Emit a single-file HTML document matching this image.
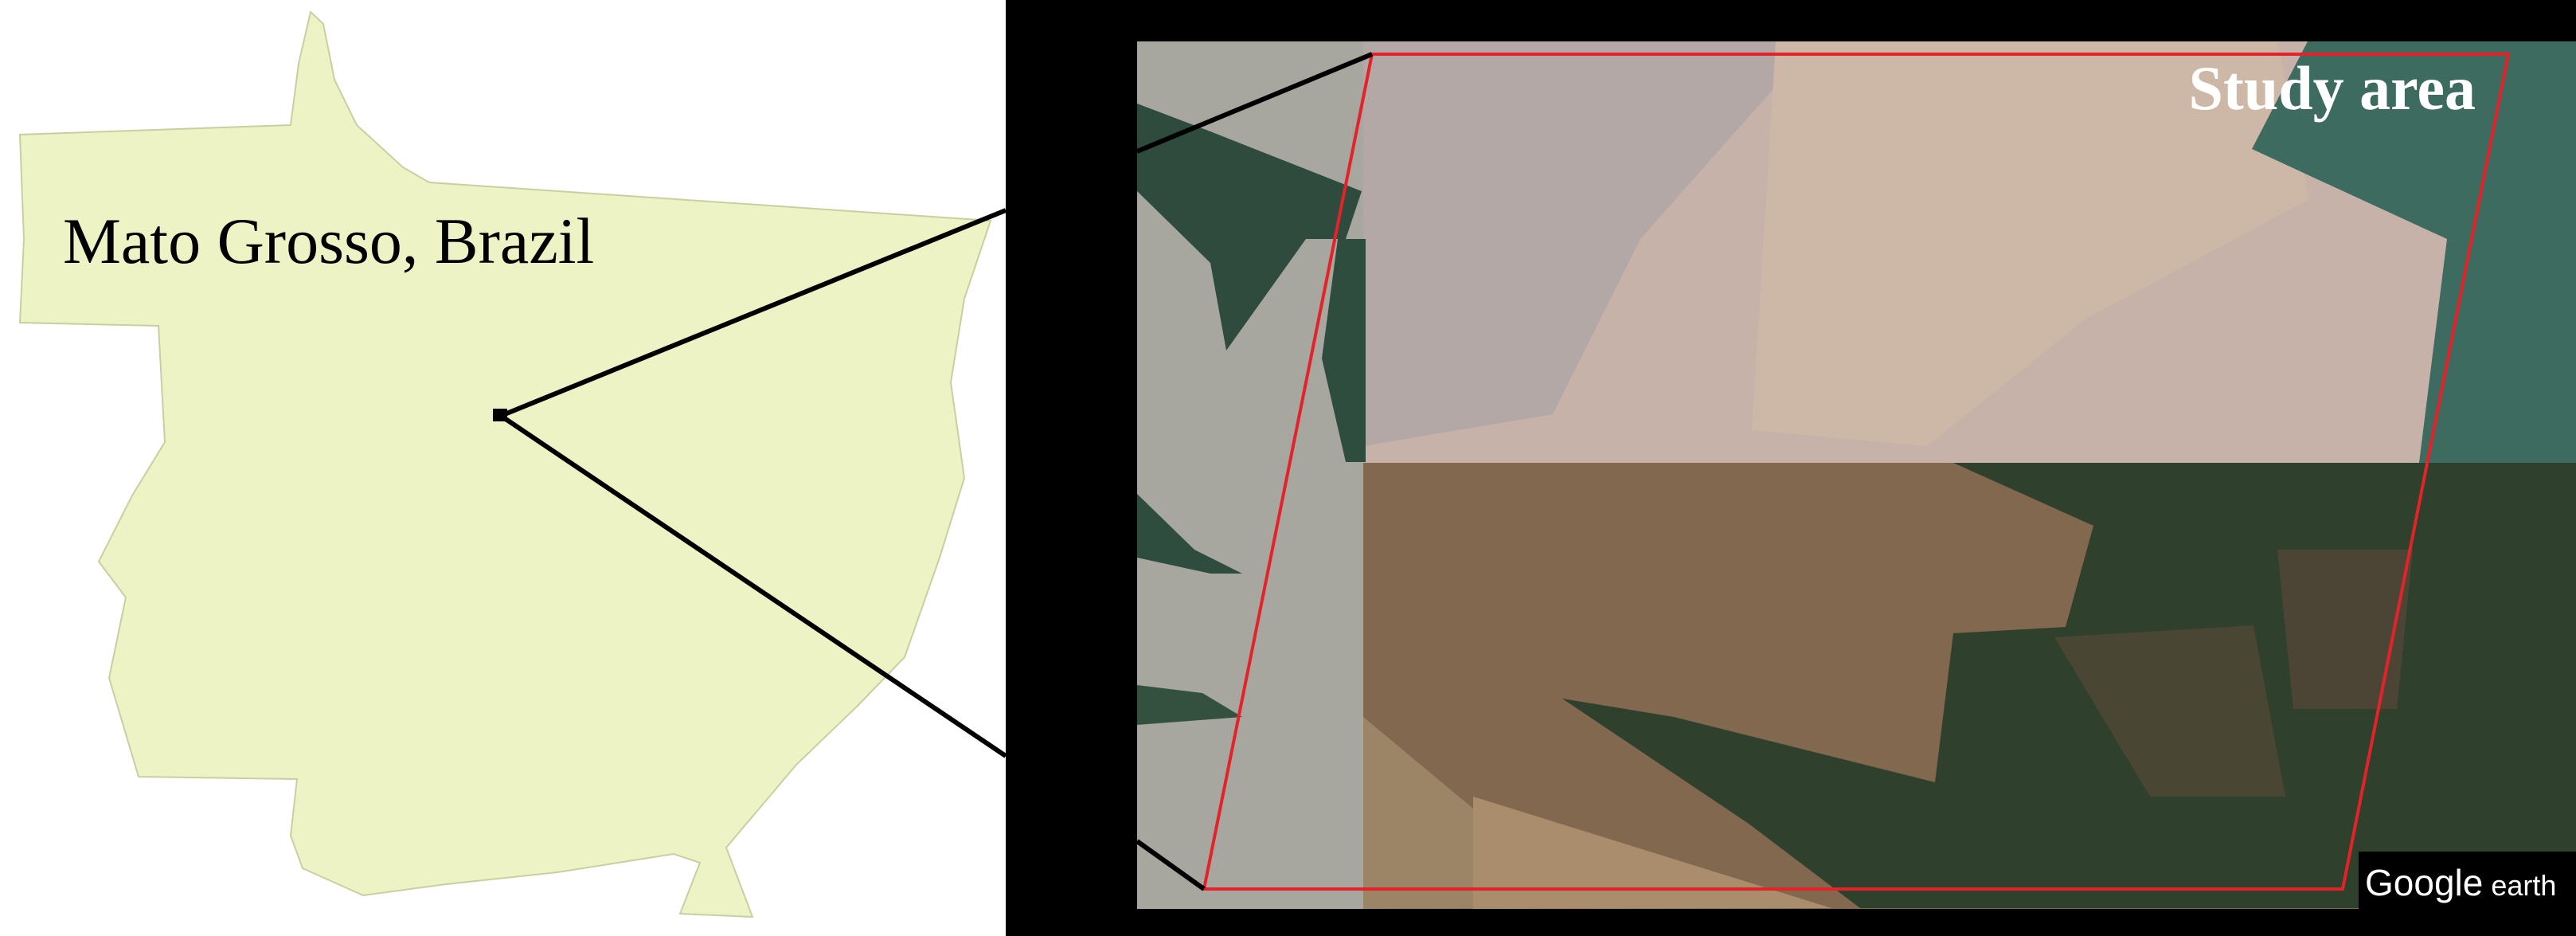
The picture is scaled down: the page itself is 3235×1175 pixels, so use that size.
<!DOCTYPE html>
<html><head><meta charset="utf-8"><style>
html,body{margin:0;padding:0;background:#fff;width:3235px;height:1175px;overflow:hidden}
svg{display:block}
</style></head><body>
<svg width="3235" height="1175" viewBox="0 0 3235 1175" xmlns="http://www.w3.org/2000/svg">
<rect x="0" y="0" width="3235" height="1175" fill="#ffffff"/>
<polygon fill="#eef3c5" stroke="#c9cfa0" stroke-width="2"
 points="390,15 406,30 420,100 448,157 506,210 539,229 1244,277 1211,375 1194,480 1211,600 1180,700 1136,825 1078,885 1000,960 912,1064 945,1151 854,1147 879,1083 846,1072 700,1095 560,1110 456,1124 380,1090 365,1049 373,978 174,975 137,851 158,750 124,705 166,622 207,555 199,409 25,405 30,300 25,169 365,157 375,80"/>
<text x="79" y="330" font-family="'Liberation Serif',serif" font-size="82" fill="#000">Mato Grosso, Brazil</text>

<rect x="1263" y="0" width="1972" height="1175" fill="#000"/>
<g>
 <rect x="1428" y="52" width="1807" height="1089" fill="#a8a79f"/>
 <rect x="1712" y="52" width="1523" height="530" fill="#c6b2a8"/>
 <polygon points="1712,52 2280,52 2060,300 1950,520 1712,560" fill="#b3a8a6"/>
 <polygon points="2230,52 2860,52 2900,250 2620,400 2420,560 2200,540" fill="#cdb7a6"/>
 <rect x="1712" y="581" width="1523" height="560" fill="#82684f"/>
 <polygon points="1712,900 2000,1140 1712,1141" fill="#9c8466"/>
 <polygon points="1850,1000 2300,1140 1850,1141" fill="#a98d6c"/>
 <polygon points="2898,52 3235,52 3235,581 3038,581 3073,300 2910,225 2828,187" fill="#3d6b5f"/>
 <polygon points="2453,581 3235,581 3235,1140 2336,1140 2196,1034 1962,877 2102,900 2430,982 2453,795 2594,787 2629,660" fill="#2f402c"/>
 <polygon points="2580,800 2830,785 2870,1000 2700,1000" fill="#4a4634"/>
 <polygon points="2860,690 3030,690 3010,890 2880,890" fill="#4c4535"/>
 <polygon points="1428,130 1520,165 1710,240 1690,300 1640,300 1540,440 1520,330 1428,240" fill="#2e4b3d"/>
 <polygon points="1680,300 1715,300 1715,580 1690,580 1660,450" fill="#2f4d3e"/>
 <polygon points="1428,620 1500,690 1560,720 1520,720 1428,700" fill="#2f4d3e"/>
 <polygon points="1428,860 1510,870 1560,900 1428,910" fill="#34513f"/>
</g>
<polygon points="1723,68 3150,68 2942,1116 1512,1116" fill="none" stroke="#e3232a" stroke-width="4"/>
<text x="3109" y="137" text-anchor="end" font-family="'Liberation Serif',serif" font-weight="bold" font-size="78" fill="#fff">Study area</text>
<rect x="2962" y="1069" width="273" height="72" fill="#000"/>
<text x="2970" y="1124" font-family="'Liberation Sans',sans-serif" font-size="46" fill="#fff">Google<tspan font-size="36"> earth</tspan></text>

<g stroke="#000" stroke-width="6">
 <line x1="629" y1="522" x2="1263" y2="264"/>
 <line x1="629" y1="522" x2="1263" y2="949"/>
 <line x1="1428" y1="190" x2="1723" y2="68"/>
 <line x1="1428" y1="1056" x2="1512" y2="1116"/>
</g>
<rect x="619" y="513" width="18" height="16" fill="#000"/>
</svg>
</body></html>
